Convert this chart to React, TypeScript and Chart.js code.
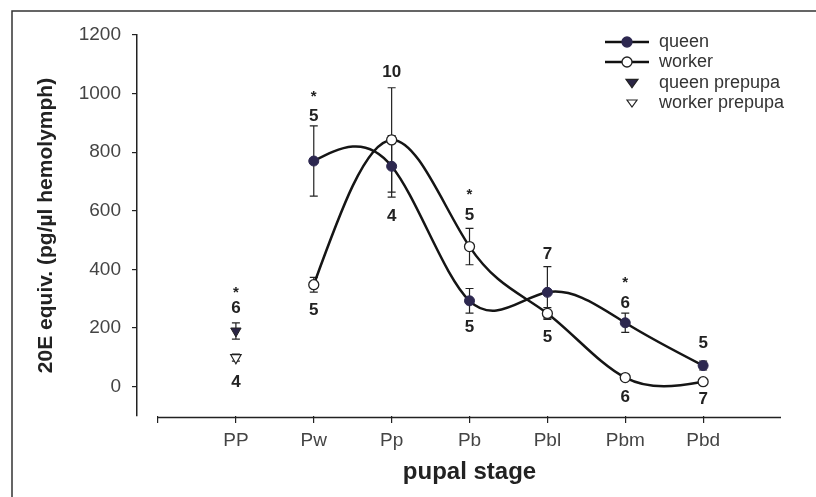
import React, { useEffect, useRef } from 'react';
import { Chart, registerables } from 'chart.js';

Chart.register(...registerables);

// ---------- data ----------
const stages = ['PP', 'Pw', 'Pp', 'Pb', 'Pbl', 'Pbm', 'Pbd'];
const pupalStages = ['Pw', 'Pp', 'Pb', 'Pbl', 'Pbm', 'Pbd'];
const queenMean = [770, 752, 293, 322, 218, 72];
const queenSE = [120, 105, 42, 88, 33, 15];
const workerMean = [348, 842, 478, 250, 31, 17];
const workerSE = [25, 178, 62, 20, 6, 5];
const prepupaStage = ['PP'];
const queenPrepupaMean = [190];
const queenPrepupaSE = [28];
const workerPrepupaMean = [99];
const workerPrepupaSE = [12];
const yTickValues = [0, 200, 400, 600, 800, 1000, 1200];
const seriesNames = ['queen', 'worker', 'queen prepupa', 'worker prepupa'];
const annotationStage = ['PP', 'PP', 'PP', 'Pw', 'Pw', 'Pw', 'Pp', 'Pp', 'Pb', 'Pb', 'Pb', 'Pbl', 'Pbl', 'Pbm', 'Pbm', 'Pbm', 'Pbd', 'Pbd'];
const annotationText = ['*', '6', '4', '*', '5', '5', '10', '4', '*', '5', '5', '7', '5', '*', '6', '6', '5', '7'];
const annotationValue = [331, 269, 14, 999, 924, 259, 1071, 580, 665, 586, 201, 450, 170, 365, 286, -37, 147, -44];

const FONT = '"Liberation Sans", Arial, Helvetica, sans-serif';
const stageX = (s: string) => stages.indexOf(s) + 1;
const pts = (names: string[], vals: number[]) => names.map((s, i) => ({ x: stageX(s), y: vals[i] }));

// natural cubic spline -> bezier control points (pixel space)
function applyNaturalSpline(points: any[]) {
  const n = points.length;
  if (n < 3) return;
  const xs = points.map((p) => p.x);
  const ys = points.map((p) => p.y);
  const h: number[] = [];
  for (let i = 0; i < n - 1; i++) h[i] = xs[i + 1] - xs[i];
  const M = new Array(n).fill(0);
  const cpv: number[] = [];
  const dpv: number[] = [];
  for (let i = 1; i <= n - 2; i++) {
    const a = h[i - 1];
    const b = 2 * (h[i - 1] + h[i]);
    const c = h[i];
    const d = 6 * ((ys[i + 1] - ys[i]) / h[i] - (ys[i] - ys[i - 1]) / h[i - 1]);
    const m = b - (i > 1 ? a * cpv[i - 1] : 0);
    cpv[i] = c / m;
    dpv[i] = (d - (i > 1 ? a * dpv[i - 1] : 0)) / m;
  }
  for (let i = n - 2; i >= 1; i--) M[i] = dpv[i] - cpv[i] * M[i + 1];
  for (let i = 0; i < n - 1; i++) {
    const s = (ys[i + 1] - ys[i]) / h[i];
    const d0 = s - (h[i] * (2 * M[i] + M[i + 1])) / 6;
    const d1 = s + (h[i] * (M[i] + 2 * M[i + 1])) / 6;
    points[i].cp2x = xs[i] + h[i] / 3;
    points[i].cp2y = ys[i] + (d0 * h[i]) / 3;
    points[i + 1].cp1x = xs[i + 1] - h[i] / 3;
    points[i + 1].cp1y = ys[i + 1] - (d1 * h[i]) / 3;
  }
  points[0].cp1x = xs[0];
  points[0].cp1y = ys[0];
  points[n - 1].cp2x = xs[n - 1];
  points[n - 1].cp2y = ys[n - 1];
}

const splinePlugin = {
  id: 'naturalSpline',
  beforeDatasetDraw(chart: any, args: any) {
    const ds = chart.data.datasets[args.index];
    if (!ds.naturalSpline) return;
    const meta = args.meta;
    const line = meta.dataset;
    line.updateControlPoints(chart.chartArea, meta.indexAxis);
    applyNaturalSpline(meta.data);
    line._path = undefined;
  },
};

const errorBarPlugin = {
  id: 'errorBars',
  beforeDatasetsDraw(chart: any) {
    const ctx = chart.ctx;
    const yScale = chart.scales.y;
    ctx.save();
    ctx.strokeStyle = '#222';
    ctx.lineWidth = 1.2;
    chart.data.datasets.forEach((ds: any, di: number) => {
      if (!ds.errors) return;
      const meta = chart.getDatasetMeta(di);
      meta.data.forEach((p: any, i: number) => {
        const v = ds.data[i].y;
        const e = ds.errors[i];
        const top = yScale.getPixelForValue(v + e);
        const bot = yScale.getPixelForValue(v - e);
        const x = p.x;
        const cap = 4;
        ctx.beginPath();
        ctx.moveTo(x, top);
        ctx.lineTo(x, bot);
        ctx.moveTo(x - cap, top);
        ctx.lineTo(x + cap, top);
        ctx.moveTo(x - cap, bot);
        ctx.lineTo(x + cap, bot);
        ctx.stroke();
      });
    });
    ctx.restore();
  },
};

function downTriangle(ctx: CanvasRenderingContext2D, x: number, y: number, r: number, fill: boolean) {
  ctx.beginPath();
  ctx.moveTo(x - r, y - r * 0.6);
  ctx.lineTo(x + r, y - r * 0.6);
  ctx.lineTo(x, y + r * 0.8);
  ctx.closePath();
  ctx.fillStyle = fill ? '#2a2545' : '#fff';
  ctx.fill();
  ctx.strokeStyle = '#222';
  ctx.lineWidth = 1.2;
  ctx.stroke();
}

const decorPlugin = {
  id: 'decor',
  afterDraw(chart: any) {
    const ctx = chart.ctx;
    const xs = chart.scales.x;
    const ys = chart.scales.y;
    const area = chart.chartArea;
    ctx.save();
    // frame (left + top)
    ctx.strokeStyle = '#333';
    ctx.lineWidth = 1.5;
    ctx.beginPath();
    ctx.moveTo(12, 497);
    ctx.lineTo(12, 11);
    ctx.lineTo(816, 11);
    ctx.stroke();

    // x axis line, offset from y axis
    ctx.strokeStyle = '#222';
    ctx.lineWidth = 1.5;
    ctx.beginPath();
    ctx.moveTo(xs.getPixelForValue(0), area.bottom + 1.5);
    ctx.lineTo(xs.getPixelForValue(8), area.bottom + 1.5);
    ctx.stroke();

    // x title
    ctx.fillStyle = '#222';
    ctx.font = `bold 24px ${FONT}`;
    ctx.textAlign = 'center';
    ctx.textBaseline = 'middle';
    ctx.fillText('pupal stage', (xs.getPixelForValue(0) + xs.getPixelForValue(8)) / 2, 472);

    // annotations (n and significance)
    annotationText.forEach((t, i) => {
      const x = xs.getPixelForValue(stageX(annotationStage[i]));
      const y = ys.getPixelForValue(annotationValue[i]);
      ctx.font = t === '*' ? `bold 15px ${FONT}` : `bold 17px ${FONT}`;
      ctx.fillStyle = '#222';
      ctx.fillText(t, x, t === '*' ? y + 3 : y);
    });

    // legend
    const lx0 = 605;
    const lx1 = 649;
    const mx = 627;
    const tx = 659;
    const rows = [42, 62, 83, 103];
    ctx.font = `18px ${FONT}`;
    ctx.textAlign = 'left';
    ctx.textBaseline = 'middle';
    rows.forEach((ry, i) => {
      if (i < 2) {
        ctx.strokeStyle = '#111';
        ctx.lineWidth = 2.5;
        ctx.beginPath();
        ctx.moveTo(lx0, ry);
        ctx.lineTo(lx1, ry);
        ctx.stroke();
        ctx.beginPath();
        ctx.arc(mx, ry, 5, 0, Math.PI * 2);
        ctx.fillStyle = i === 0 ? '#2d2850' : '#fff';
        ctx.fill();
        ctx.lineWidth = 1.3;
        ctx.strokeStyle = i === 0 ? '#2d2850' : '#222';
        ctx.stroke();
      } else {
        downTriangle(ctx, 632, ry, i === 2 ? 6 : 5, i === 2);
      }
      ctx.fillStyle = '#333';
      ctx.fillText(seriesNames[i], tx, ry);
    });
    ctx.restore();
  },
};

export default function App() {
  const ref = useRef<HTMLCanvasElement>(null);
  useEffect(() => {
    document.body.style.margin = '0';
    Chart.defaults.font.family = FONT;
    const chart = new Chart(ref.current as HTMLCanvasElement, {
      type: 'line',
      data: {
        datasets: [
          {
            label: seriesNames[0],
            data: pts(pupalStages, queenMean),
            errors: queenSE,
            naturalSpline: true,
            borderColor: '#151515',
            borderWidth: 2.5,
            tension: 0.4,
            pointRadius: 5,
            pointBackgroundColor: '#2d2850',
            pointBorderColor: '#2d2850',
            pointBorderWidth: 1,
            fill: false,
          } as any,
          {
            label: seriesNames[1],
            data: pts(pupalStages, workerMean),
            errors: workerSE,
            naturalSpline: true,
            borderColor: '#151515',
            borderWidth: 2.5,
            tension: 0.4,
            pointRadius: 5,
            pointBackgroundColor: '#ffffff',
            pointBorderColor: '#222',
            pointBorderWidth: 1.3,
            fill: false,
          } as any,
          {
            label: seriesNames[2],
            data: pts(prepupaStage, queenPrepupaMean),
            errors: queenPrepupaSE,
            showLine: false,
            pointStyle: 'triangle',
            rotation: 180,
            pointRadius: 6,
            pointBackgroundColor: '#2a2545',
            pointBorderColor: '#222',
            pointBorderWidth: 1,
          } as any,
          {
            label: seriesNames[3],
            data: pts(prepupaStage, workerPrepupaMean),
            errors: workerPrepupaSE,
            showLine: false,
            pointStyle: 'triangle',
            rotation: 180,
            pointRadius: 6,
            pointBackgroundColor: '#ffffff',
            pointBorderColor: '#222',
            pointBorderWidth: 1.2,
          } as any,
        ],
      },
      options: {
        responsive: false,
        animation: false,
        layout: { padding: { left: 0, top: 35, right: 35, bottom: 0 } },
        plugins: {
          legend: { display: false },
          tooltip: { enabled: false },
        },
        scales: {
          x: {
            type: 'linear',
            min: -0.27,
            max: 8,
            afterBuildTicks: (scale: any) => {
              scale.ticks = [0, 1, 2, 3, 4, 5, 6, 7].map((v) => ({ value: v }));
            },
            afterFit: (scale: any) => {
              scale.height = 81;
            },
            ticks: {
              autoSkip: false,
              maxRotation: 0,
              padding: 6,
              color: '#444',
              font: { size: 19 },
              callback: (v: any) => (v >= 1 && v <= 7 ? stages[v - 1] : ''),
            },
            grid: {
              drawOnChartArea: false,
              drawTicks: true,
              tickLength: 7,
              color: '#222',
              lineWidth: 1.2,
            },
            border: { display: false },
          },
          y: {
            type: 'linear',
            min: -100,
            max: 1200,
            afterBuildTicks: (scale: any) => {
              scale.ticks = yTickValues.map((v) => ({ value: v }));
            },
            afterFit: (scale: any) => {
              scale.width = 137;
            },
            ticks: {
              padding: 11,
              color: '#444',
              font: { size: 19 },
              callback: (v: any) => String(v),
            },
            grid: {
              drawOnChartArea: false,
              drawTicks: true,
              tickLength: 5,
              color: '#222',
              lineWidth: 1.2,
            },
            border: { display: true, color: '#222', width: 1.5 },
            title: {
              display: true,
              text: '20E equiv. (pg/µl hemolymph)',
              color: '#222',
              font: { size: 21, weight: 'bold' },
              padding: { top: 34, bottom: 0 },
            },
          },
        },
      },
      plugins: [splinePlugin, errorBarPlugin, decorPlugin],
    } as any);
    return () => chart.destroy();
  }, []);
  return (
    <div style={{ width: 816, height: 497 }}>
      <canvas ref={ref} width={816} height={497} style={{ display: 'block' }} />
    </div>
  );
}
